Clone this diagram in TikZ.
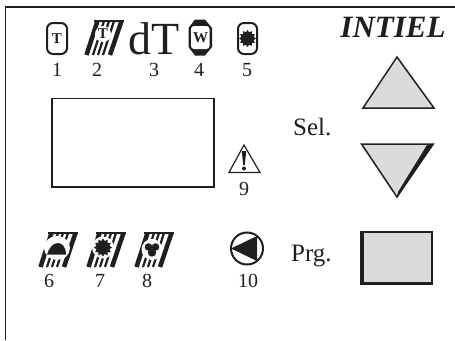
\documentclass[tikz,border=0pt]{standalone}
\usepackage{fontspec}
\setmainfont{Liberation Serif}
\usetikzlibrary{shapes.geometric}
\definecolor{inkdark}{gray}{0.12}
\definecolor{keygray}{gray}{0.86}
\tikzset{
	num/.style={font=\fontsize{20}{20}\selectfont, text=inkdark, inner sep=0pt},
	caption/.style={font=\fontsize{25}{25}\selectfont, text=inkdark, inner sep=0pt},
	letter/.style={font=\fontsize{15}{15}\selectfont\bfseries, text=inkdark, inner sep=0pt},
	burst/.style={star, star points=12, star point ratio=1.35, fill=inkdark, draw=none, inner sep=0pt, minimum size=#1},
	key/.style={draw=inkdark, fill=keygray, line width=1.5pt, line join=miter},
	pics/hatchbox/.style={code={
		% top bar, then the slanted bars
		\draw[inkdark, line width=2.8pt] (0,0) -- (30,0);
		\draw[inkdark, line width=4.5pt] (3.5,0) -- (-7.5,34);
		\draw[inkdark, line width=4.5pt] (27.5,0) -- (16,34);
		\draw[inkdark, line width=2.2pt] (10,0) -- (-1,34);
		\draw[inkdark, line width=2.2pt] (15,0) -- (4,34);
		\draw[inkdark, line width=2.2pt] (20,0) -- (9,34);
	}},
}
\begin{document}
\begin{tikzpicture}[x=1pt, y=-1pt]
\useasboundingbox (0,0) rectangle (455,340);
% panel outline, open at the bottom and right
\draw[inkdark, line width=1.5pt] (5.5,340) -- (5.5,7) -- (455,7);
\draw[inkdark, line width=1.2pt] (52,98.5) rectangle (214,187);
\node[inner sep=0pt, text=inkdark, font=\fontsize{31}{31}\selectfont\bfseries\itshape] (brand) at (393,27) {INTIEL};
% top row
\draw[inkdark, line width=2pt, rounded corners=6pt] (47,23) rectangle (67,54);
\node[letter] (tempA) at (57,38.5) {T};
\pic at (94,21) {hatchbox};
\fill[white] (103,34) circle (8);
\node[letter] (tempB) at (103,34) {T};
\node[inner sep=0pt, text=inkdark, text depth=0pt, font=\fontsize{46}{46}\selectfont] (delta) at (154,39) {dT};
\fill[inkdark] (195,19.5) -- (205,19.5) -- (212,28) -- (212,47) -- (205,55.5) -- (195,55.5) -- (188.5,47) -- (188.5,28) -- cycle;
\fill[white, rounded corners=3pt] (191,26) rectangle (209.5,49);
\node[letter] (water) at (200.5,37.5) {W};
\draw[inkdark, line width=2pt, rounded corners=6pt] (238,23) rectangle (257,54);
\node[burst=17pt] (sunA) at (247.5,38.5) {};
\node[num] (n1) at (57,70) {1};
\node[num] (n2) at (97,70) {2};
\node[num] (n3) at (154,70) {3};
\node[num] (n4) at (199,70) {4};
\node[num] (n5) at (247,70) {5};
% alarm
\draw[inkdark, line width=1.2pt, line join=miter] (244,145) -- (260,172.5) -- (229,172.5) -- cycle;
\fill[inkdark] (241.8,151) -- (246.2,151) -- (244.8,165) -- (243.2,165) -- cycle;
\fill[inkdark] (244,168.5) circle (2);
\node[num] (n9) at (244,189) {9};
% bottom row
\pic at (48,233) {hatchbox};
\fill[white] (57,248) ellipse (13 and 12);
\fill[inkdark] (47,254.5) .. controls (49,248) and (53,243) .. (58,243) .. controls (62,243) and (66,247) .. (66,254.5) -- cycle;
\pic at (96,233) {hatchbox};
\fill[white] (103,247.5) circle (11);
\node[burst=18pt] (sunB) at (103,247.5) {};
\pic at (144,233) {hatchbox};
\fill[white] (152,249.5) circle (10.5);
\fill[inkdark] (148.5,247) circle (3.8);
\fill[inkdark] (155.5,247) circle (3.8);
\fill[inkdark] (152,252.5) circle (4.2);
\node[num] (n6) at (49,281) {6};
\node[num] (n7) at (100,281) {7};
\node[num] (n8) at (147,281) {8};
% pump
\draw[inkdark, line width=2pt] (247,248.5) circle (16);
\fill[inkdark] (231,248.5) -- (257,236) -- (257,261) -- cycle;
\node[num] (n10) at (248,281) {10};
% keys
\node[caption, anchor=west] (sel) at (293,127) {Sel.};
\node[caption, anchor=west] (prg) at (291,256) {Prg.};
\filldraw[key] (397,57) -- (434,108) -- (363,108) -- cycle;
\filldraw[key] (361.5,144) -- (433,144) -- (397,197) -- cycle;
\fill[inkdark] (434.5,143.5) -- (427,145) -- (398,192) -- (397,197) -- cycle;
\filldraw[key, line width=1.2pt] (361,232) rectangle (432,284);
\draw[inkdark, line width=3pt] (362.5,232) -- (362.5,283.5) -- (432,283.5);
\end{tikzpicture}
\end{document}
